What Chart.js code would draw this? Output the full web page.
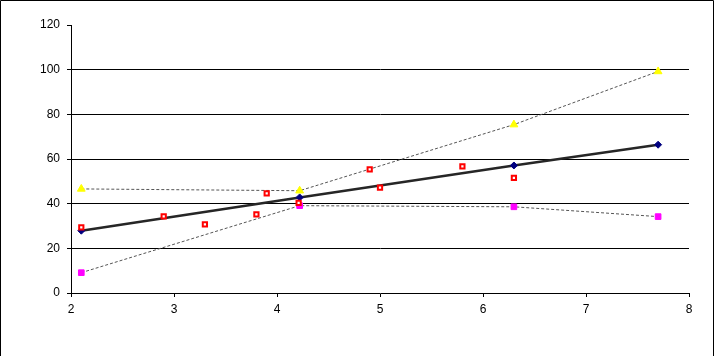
<!DOCTYPE html>
<html>
<head>
<meta charset="utf-8">
<script src="https://cdn.jsdelivr.net/npm/chart.js@4/dist/chart.umd.min.js"></script>
<style>
html,body{margin:0;padding:0;background:#fff;}
canvas{display:block;}
</style>
</head>
<body>
<canvas id="c" width="714" height="356"></canvas>
<script>
// Data
const mainX = [2.1, 4.22, 6.3, 7.7];
const trendY = [27.9, 42.8, 57.1, 66.4];
const upperY = [46.6, 45.8, 75.4, 99.2];
const lowerY = [9.1, 39.1, 38.6, 34.2];
const obsX = [2.1, 2.9, 3.3, 3.8, 3.9, 4.21, 4.9, 5.0, 5.8, 6.3];
const obsY = [29.4, 34.3, 30.7, 35.2, 44.6, 40.4, 55.4, 47.2, 56.7, 51.6];
const xTicks = [2, 3, 4, 5, 6, 7, 8];
const yTicks = [0, 20, 40, 60, 80, 100, 120];

const pts = (xs, ys) => xs.map((x, i) => ({x: x, y: ys[i]}));

const borderPlugin = {
  id: 'frame',
  afterDraw(chart) {
    const ctx = chart.ctx;
    ctx.save();
    ctx.strokeStyle = '#000';
    ctx.lineWidth = 1;
    ctx.beginPath();
    ctx.moveTo(0.5, 356);
    ctx.lineTo(0.5, 0.5);
    ctx.lineTo(713.5, 0.5);
    ctx.lineTo(713.5, 356);
    ctx.stroke();
    ctx.restore();
  }
};

new Chart(document.getElementById('c'), {
  type: 'scatter',
  data: {
    datasets: [
      {
        label: 'Observed',
        data: pts(obsX, obsY),
        showLine: false,
        pointStyle: 'rect',
        pointRadius: 3,
        pointBorderWidth: 2,
        pointBorderColor: '#ff0000',
        pointBackgroundColor: '#ffffff',
        order: 1
      },
      {
        label: 'Fit',
        data: pts(mainX, trendY),
        showLine: true,
        borderColor: '#262626',
        borderWidth: 2.5,
        pointStyle: 'rectRot',
        pointRadius: 3.5,
        pointBorderWidth: 1,
        pointBorderColor: '#000080',
        pointBackgroundColor: '#000080',
        order: 2
      },
      {
        label: 'Upper',
        data: pts(mainX, upperY),
        showLine: true,
        borderColor: '#555555',
        borderWidth: 1,
        borderDash: [3, 2],
        pointStyle: 'triangle',
        pointRadius: 4.5,
        pointBorderWidth: 1,
        pointBorderColor: '#ffff00',
        pointBackgroundColor: '#ffff00',
        order: 3
      },
      {
        label: 'Lower',
        data: pts(mainX, lowerY),
        showLine: true,
        borderColor: '#555555',
        borderWidth: 1,
        borderDash: [3, 2],
        pointStyle: 'rect',
        pointRadius: 4,
        pointBorderWidth: 1,
        pointBorderColor: '#ff00ff',
        pointBackgroundColor: '#ff00ff',
        order: 4
      }
    ]
  },
  options: {
    responsive: false,
    animation: false,
    events: [],
    layout: { padding: { top: 25, right: 25, left: 0, bottom: 0 } },
    plugins: { legend: { display: false }, tooltip: { enabled: false } },
    scales: {
      x: {
        type: 'linear',
        min: 2, max: 8,
        afterBuildTicks: s => { s.ticks = xTicks.map(v => ({value: v})); },
        afterFit: s => { s.height = 63; },
        grid: { drawOnChartArea: false, tickLength: 4, tickColor: '#000', color: '#000' },
        border: { color: '#000', width: 1 },
        ticks: { color: '#000', padding: 5, maxRotation: 0, font: { family: 'Liberation Sans', size: 12 } }
      },
      y: {
        type: 'linear',
        min: 0, max: 120,
        afterBuildTicks: s => { s.ticks = yTicks.map(v => ({value: v})); },
        afterFit: s => { s.width = 71; },
        grid: {
          color: c => (c.tick && (c.tick.value === 120 || c.tick.value === 0)) ? 'rgba(0,0,0,0)' : '#000',
          tickColor: '#000',
          tickLength: 4,
          lineWidth: 1
        },
        border: { color: '#000', width: 1 },
        ticks: { color: '#000', padding: 7, font: { family: 'Liberation Sans', size: 12 } }
      }
    }
  },
  plugins: [borderPlugin]
});
</script>
</body>
</html>
